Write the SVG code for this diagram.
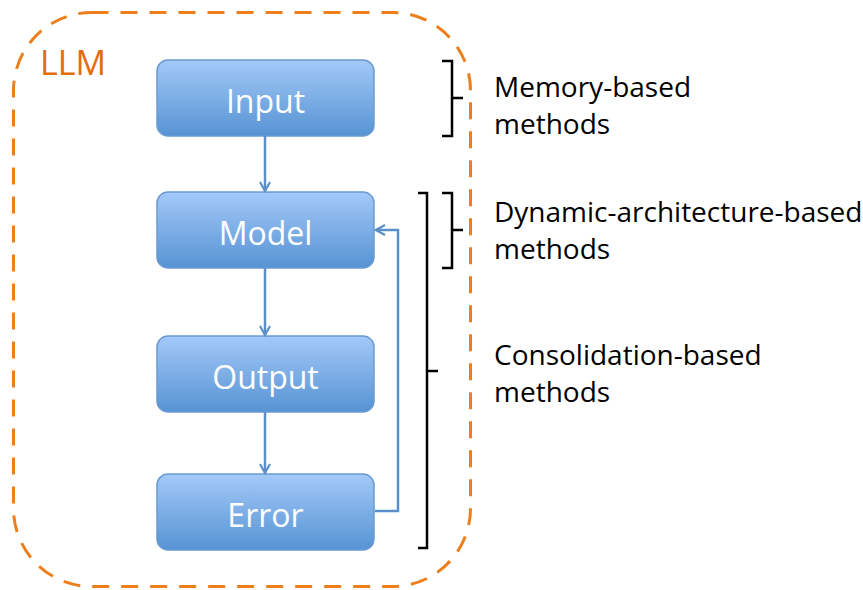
<svg xmlns="http://www.w3.org/2000/svg" width="863" height="590" viewBox="0 0 863 590">
<defs>
<linearGradient id="g" x1="0" y1="0" x2="0" y2="1">
<stop offset="0" stop-color="#a4c9f8"/>
<stop offset="1" stop-color="#5693d3"/>
</linearGradient>
<marker id="ah" viewBox="0 0 12 12" refX="10" refY="6" markerWidth="12" markerHeight="12" markerUnits="userSpaceOnUse" orient="auto">
<path d="M1,1 L10,6 L1,11" fill="none" stroke="#5b8fca" stroke-width="2.2"/>
</marker>
</defs>
<style>
.box{fill:url(#g);stroke:#6b9bd0;stroke-width:1.5}
.bt{font-family:"Open Sans","Noto Sans",sans-serif;font-size:32px;fill:#ffffff;text-anchor:middle}
.lab{font-family:"Open Sans","Noto Sans",sans-serif;font-size:28px;fill:#000000}
.con{fill:none;stroke:#5b8fca;stroke-width:2.5;marker-end:url(#ah)}
.br{fill:none;stroke:#000000;stroke-width:2.5}
</style>
<rect id="llm-frame" x="13.5" y="12.5" width="457" height="574" rx="78" ry="78" fill="none" stroke="#ec7f1c" stroke-width="3" stroke-dasharray="17,12"/>
<text x="40" y="75" font-family="Open Sans, Noto Sans, sans-serif" font-size="34" fill="#e46c0a">LLM</text>
<g id="input"><rect class="box" x="157" y="60" width="217" height="76" rx="11"/><text class="bt" x="265.5" y="113">Input</text></g>
<g id="model"><rect class="box" x="157" y="192" width="217" height="76" rx="11"/><text class="bt" x="265.5" y="245">Model</text></g>
<g id="output"><rect class="box" x="157" y="336" width="217" height="76" rx="11"/><text class="bt" x="265.5" y="389">Output</text></g>
<g id="error"><rect class="box" x="157" y="474" width="217" height="76" rx="11"/><text class="bt" x="265.5" y="527">Error</text></g>
<g id="connectors">
<path class="con" d="M265,136 L265,191"/>
<path class="con" d="M265,268 L265,335"/>
<path class="con" d="M265,412 L265,473"/>
<path class="con" d="M375,511 L398,511 L398,230 L376,230"/>
</g>
<g id="brackets">
<path class="br" d="M442,61 L452,61 L452,136 L442,136 M452,98 L463,98"/>
<path class="br" d="M442,193 L452,193 L452,268 L442,268 M452,230 L463,230"/>
<path class="br" d="M418,193 L427,193 L427,548 L418,548 M427,371 L438,371"/>
</g>
<g id="labels">
<text class="lab" x="494" y="97">Memory-based</text>
<text class="lab" x="494" y="134">methods</text>
<text class="lab" x="494" y="222">Dynamic-architecture-based</text>
<text class="lab" x="494" y="259">methods</text>
<text class="lab" x="494" y="365">Consolidation-based</text>
<text class="lab" x="494" y="402">methods</text>
</g>
</svg>
